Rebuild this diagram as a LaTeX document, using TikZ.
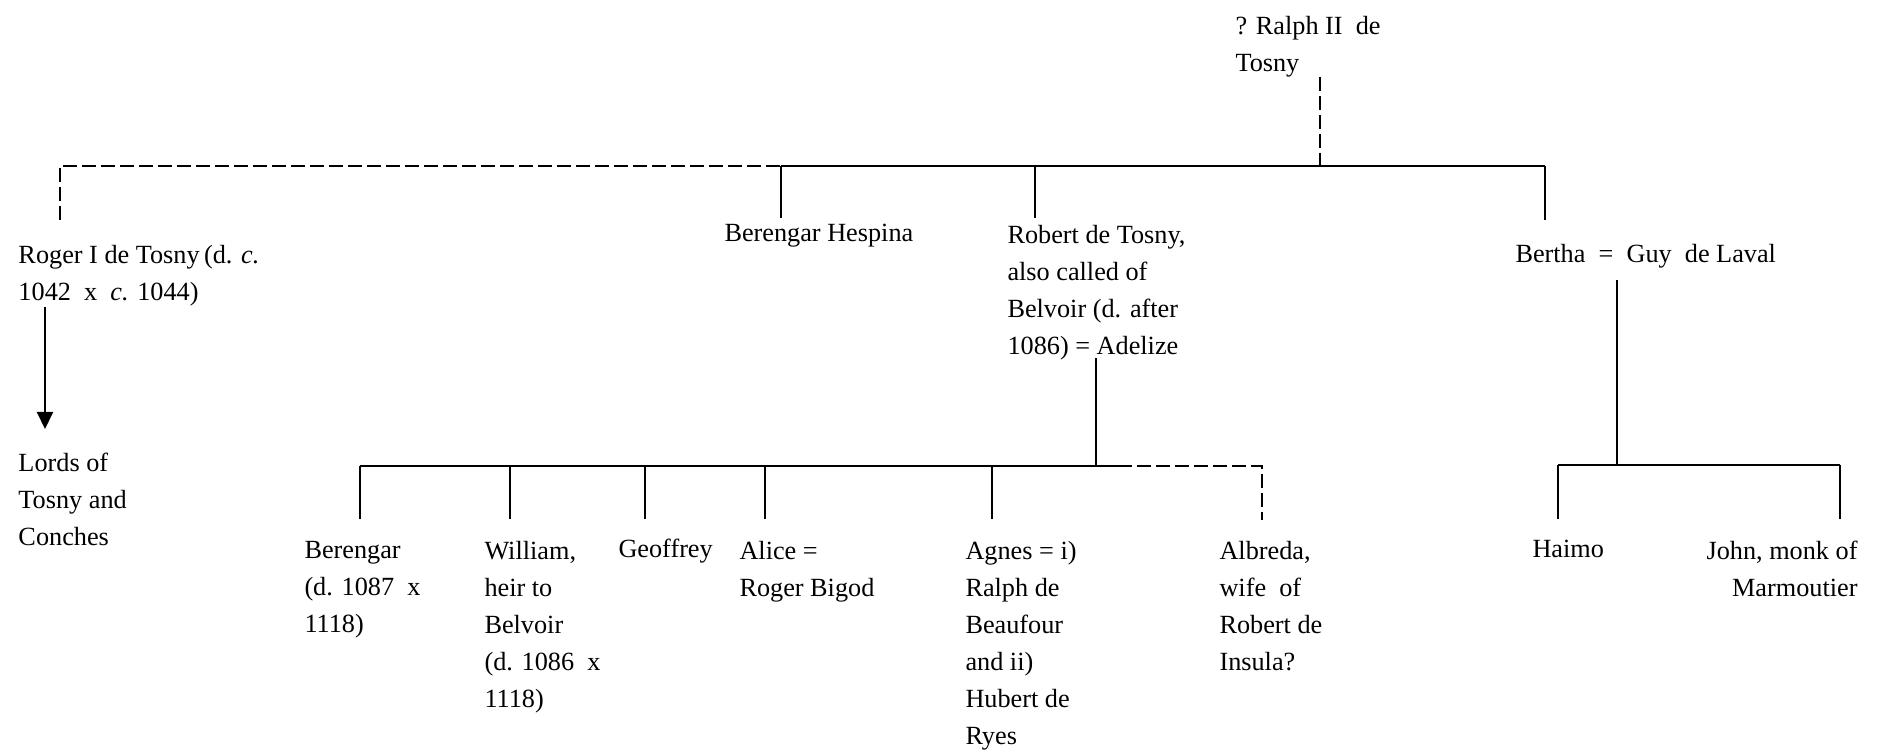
\documentclass[tikz,border=0pt]{standalone}
\usepackage{fontspec}
\setmainfont{Liberation Serif}
\usetikzlibrary{arrows.meta}
\begin{document}
\begin{tikzpicture}[x=0.4pt,y=-0.4pt,
  person/.style={anchor=north west, inner sep=0pt, align=left,
    font=\fontsize{10.5}{14.8}\selectfont, execute at begin node=\strut},
  link/.style={line width=0.8pt, black},
  dlink/.style={link, dash pattern=on 5.6pt off 2pt},
  arrowlink/.style={link, -{Triangle[length=6.8pt,width=6.4pt]}}]
\useasboundingbox (0,0) rectangle (1883,751);

% ---- people ----
\node[person] (ralph) at (1235,16) {? Ralph II\ \ de\\Tosny};
\node[person] (roger) at (18,245) {Roger I de Tosny\,(d. \textit{c.}\\1042\ \ x\ \ \textit{c.} 1044)};
\node[person] (hespina) at (724,215) {Berengar Hespina};
\node[person] (robert) at (1007,225) {Robert de Tosny,\\also called of\\Belvoir (d. after\\1086) = Adelize};
\node[person] (bertha) at (1515,236) {Bertha\ \ =\ \ Guy\ \ de Laval};
\node[person] (lords) at (18,453) {Lords of\\Tosny and\\Conches};
\node[person] (berengar) at (304,541) {Berengar\\(d. 1087\ \ x\\1118)};
\node[person] (william) at (484,541) {William,\\heir to\\Belvoir\\(d. 1086\ \ x\\1118)};
\node[person] (geoffrey) at (618,531) {Geoffrey};
\node[person] (alice) at (739,541) {Alice =\\Roger Bigod};
\node[person] (agnes) at (965,541) {Agnes = i)\\Ralph de\\Beaufour\\and ii)\\Hubert de\\Ryes};
\node[person] (albreda) at (1219,541) {Albreda,\\wife\ \ of\\Robert de\\Insula?};
\node[person] (haimo) at (1532,531) {Haimo};
\node[person, anchor=north east, align=right] (john) at (1858,541) {John, monk of\\Marmoutier};

% ---- junction points ----
\coordinate (ralphdown) at (1320,77);
\coordinate (barA) at (1320,166);
\coordinate (rogerbar) at (60,166);
\coordinate (rogerup) at (60,220);
\coordinate (hespbar) at (781,166);
\coordinate (hespup) at (781,218);
\coordinate (robbar) at (1035,166);
\coordinate (robup) at (1035,218);
\coordinate (berthabar) at (1545,166);
\coordinate (berthaup) at (1545,220);
\coordinate (rogerdown) at (45,307);
\coordinate (lordsup) at (45,429);

\coordinate (robdown) at (1096,358);
\coordinate (barB) at (1096,466);
\coordinate (bbar1) at (360,466);
\coordinate (bbar2) at (510,466);
\coordinate (bbar3) at (645,466);
\coordinate (bbar4) at (765,466);
\coordinate (bbar5) at (992,466);
\coordinate (bsolidend) at (1118,466);
\coordinate (bbar6) at (1262,466);
\coordinate (c1) at (360,519);
\coordinate (c2) at (510,519);
\coordinate (c3) at (645,519);
\coordinate (c4) at (765,519);
\coordinate (c5) at (992,519);
\coordinate (c6) at (1262,520);

\coordinate (guydown) at (1617,280);
\coordinate (barC) at (1617,465);
\coordinate (cbar1) at (1558,465);
\coordinate (cbar2) at (1840,465);
\coordinate (d1) at (1558,519);
\coordinate (d2) at (1840,519);

% ---- generation 1 ----
\draw[dlink] (ralphdown) -- (barA);
\draw[dlink] (rogerup) -- (rogerbar) -- (hespbar);
\draw[link] (hespbar) -- (berthabar);
\draw[link] (hespbar) -- (hespup);
\draw[link] (robbar) -- (robup);
\draw[link] (berthabar) -- (berthaup);
\draw[arrowlink] (rogerdown) -- (lordsup);

% ---- Robert's children ----
\draw[link] (robdown) -- (barB);
\draw[link] (bbar1) -- (bsolidend);
\draw[dlink] (bsolidend) -- (bbar6) -- (c6);
\draw[link] (bbar1) -- (c1);
\draw[link] (bbar2) -- (c2);
\draw[link] (bbar3) -- (c3);
\draw[link] (bbar4) -- (c4);
\draw[link] (bbar5) -- (c5);

% ---- Bertha's children ----
\draw[link] (guydown) -- (barC);
\draw[link] (cbar1) -- (cbar2);
\draw[link] (cbar1) -- (d1);
\draw[link] (cbar2) -- (d2);
\end{tikzpicture}
\end{document}
